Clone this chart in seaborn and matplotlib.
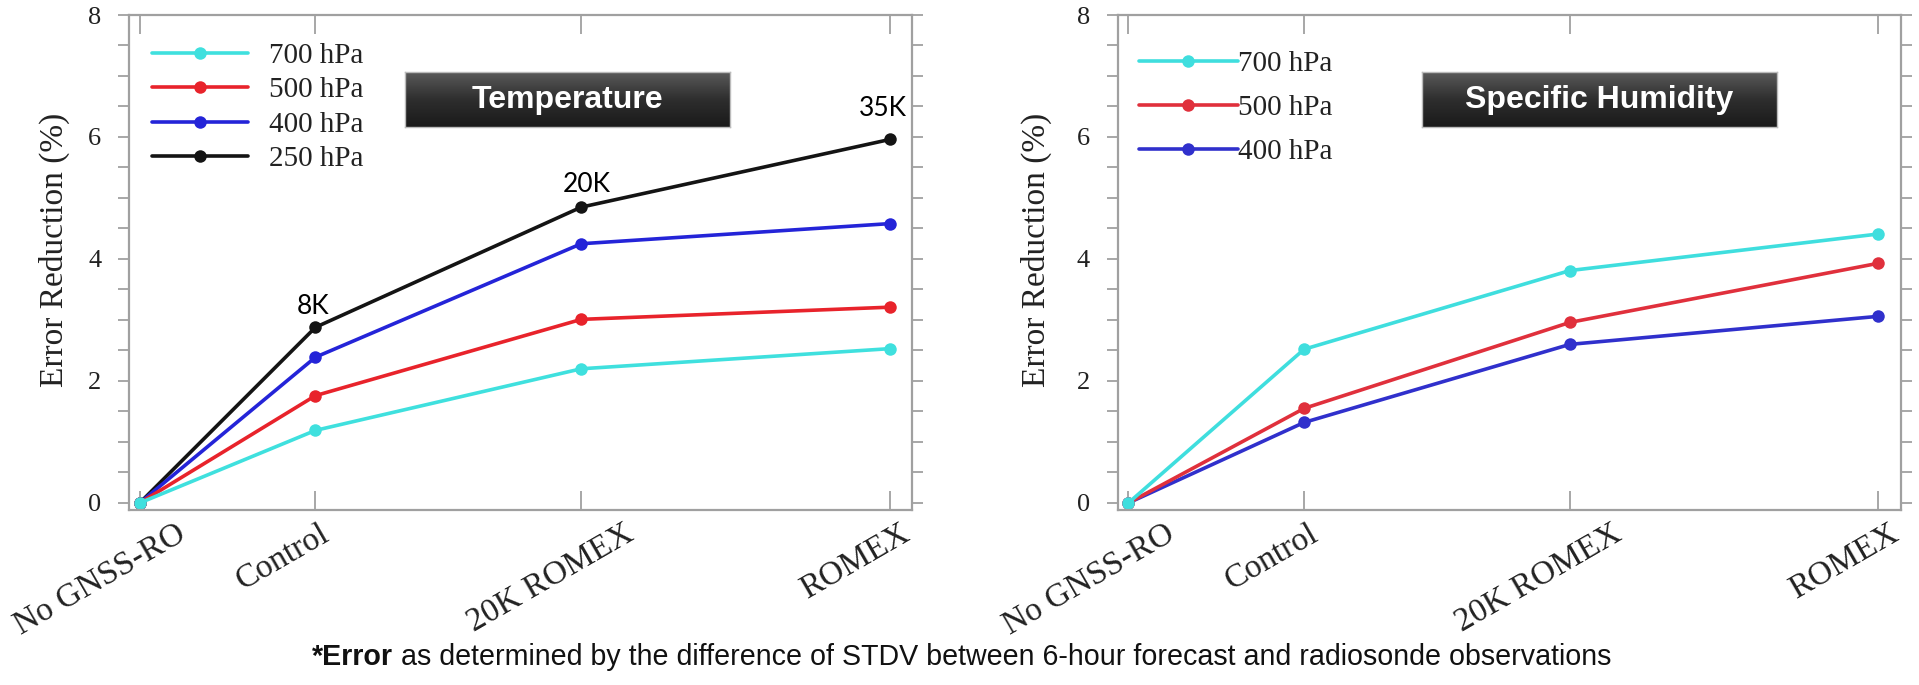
import numpy as np
import pandas as pd
import matplotlib
matplotlib.use("Agg")
import matplotlib.pyplot as plt
import seaborn as sns
from matplotlib.lines import Line2D
from matplotlib.ticker import MultipleLocator
from matplotlib.transforms import ScaledTranslation
from matplotlib.colors import LinearSegmentedColormap
from matplotlib import font_manager

# ---------------- data ----------------
categories = ["No GNSS-RO", "Control", "20K ROMEX", "ROMEX"]
x_positions = [0.0, 8.2, 20.6, 35.0]   # category positions along the axis

temp_levels = ["700 hPa", "500 hPa", "400 hPa", "250 hPa"]
temp_700 = [0.0, 1.19, 2.20, 2.53]
temp_500 = [0.0, 1.76, 3.01, 3.21]
temp_400 = [0.0, 2.39, 4.25, 4.58]
temp_250 = [0.0, 2.88, 4.85, 5.96]

hum_levels = ["700 hPa", "500 hPa", "400 hPa"]
hum_700 = [0.0, 2.52, 3.81, 4.41]
hum_500 = [0.0, 1.55, 2.96, 3.93]
hum_400 = [0.0, 1.32, 2.60, 3.06]

count_labels = ["8K", "20K", "35K"]
panel_titles = ["Temperature", "Specific Humidity"]
y_label = "Error Reduction (%)"
y_ticks = [0, 2, 4, 6, 8]
footnote_bold = "*Error"
footnote_rest = " as determined by the difference of STDV between 6-hour forecast and radiosonde observations"

# ---------------- style ----------------
sns.set_style("ticks")
plt.rcParams["font.family"] = ["Liberation Serif", "DejaVu Serif"]
available = {f.name for f in font_manager.fontManager.ttflist}
sans_narrow = "Liberation Sans Narrow" if "Liberation Sans Narrow" in available else "Liberation Sans"

temp_colors = {"700 hPa": "#3fe0de", "500 hPa": "#e8232b", "400 hPa": "#2424d8", "250 hPa": "#141414"}
hum_colors = {"700 hPa": "#3fdede", "500 hPa": "#e0303c", "400 hPa": "#3030cc"}
spine_col = "#a0a0a0"
LW, MS = 2.6, 9

fig = plt.figure(figsize=(19.19, 6.85), dpi=100)
ax1 = fig.add_axes([0.0672, 0.2555, 0.4083, 0.7226])
ax2 = fig.add_axes([0.5824, 0.2555, 0.4082, 0.7226])


def long_df(levels, series):
    rows = []
    for lev, vals in zip(levels, series):
        for xp, v in zip(x_positions, vals):
            rows.append({"x": xp, "value": v, "level": lev})
    return pd.DataFrame(rows)


label_shift_px = [36, 4, 42, 10]


def style_axes(ax, label_x):
    ax.set_xlim(-0.5, 36.05)
    ax.set_ylim(-0.115, 8)
    ax.set_yticks(y_ticks)
    ax.set_yticklabels([str(t) for t in y_ticks])
    ax.yaxis.set_minor_locator(MultipleLocator(0.5))
    ax.set_xticks(x_positions)
    ax.set_xticklabels(categories, rotation=30, ha="right", va="top",
                       rotation_mode="anchor", fontsize=24)
    ax.tick_params(axis="y", which="both", direction="out", left=True, right=True,
                   length=8, width=1.3, color=spine_col, labelsize=19, pad=12,
                   labelcolor="#222222")
    ax.tick_params(axis="x", which="major", direction="in", top=True, bottom=True,
                   length=14, width=1.3, color=spine_col, pad=6, labelcolor="#222222")
    ax.tick_params(axis="x", which="minor", bottom=False, top=False)
    for lbl, dx in zip(ax.get_xticklabels(), label_shift_px):
        lbl.set_transform(lbl.get_transform() +
                          ScaledTranslation(dx / 100.0, 0, fig.dpi_scale_trans))
    for s in ax.spines.values():
        s.set_color(spine_col)
        s.set_linewidth(1.6)
        s.set_visible(True)
    ax.set_xlabel("")
    ax.set_ylabel(y_label, fontsize=24, color="#222222")
    ax.yaxis.set_label_coords(label_x, 0.525)
    ax.grid(False)


def draw_panel(ax, levels, series, colors):
    df = long_df(levels, series)
    draw_order = list(reversed(levels))
    sns.lineplot(data=df, x="x", y="value", hue="level", hue_order=draw_order,
                 palette=colors, marker="o", markersize=MS, markeredgewidth=0,
                 linewidth=LW, legend=False, ax=ax, sort=False, errorbar=None)


draw_panel(ax1, temp_levels, [temp_700, temp_500, temp_400, temp_250], temp_colors)
draw_panel(ax2, hum_levels, [hum_700, hum_500, hum_400], hum_colors)
style_axes(ax1, -0.075)
style_axes(ax2, -0.084)

# annotations on the 250 hPa line
annot_offsets = [(-2, 15), (4, 16), (-5, 22)]
for i, lbl in enumerate(count_labels):
    ax1.annotate(lbl, (x_positions[i + 1], temp_250[i + 1]), xytext=annot_offsets[i],
                 textcoords="offset points", ha="center", va="center",
                 fontsize=19, family=["Lato", "DejaVu Sans"], color="black")


# legends
def make_legend(ax, levels, colors, anchor, labelspacing, handletextpad, handlelength):
    handles = [Line2D([0], [0], color=colors[l], lw=LW, marker="o", markersize=MS,
                      markeredgewidth=0) for l in levels]
    ax.legend(handles, levels, loc="upper left", bbox_to_anchor=anchor, frameon=False,
              fontsize=21, labelspacing=labelspacing, handletextpad=handletextpad,
              handlelength=handlelength, borderaxespad=0, borderpad=0,
              labelcolor="#222222")


make_legend(ax1, temp_levels, temp_colors, (0.029, 0.944), 0.27, 0.72, 3.3)
make_legend(ax2, hum_levels, hum_colors, (0.027, 0.928), 0.6, 0.0, 3.4)

# title boxes with gradient
grad = np.linspace(0, 1, 64).reshape(-1, 1)
box_cmap = LinearSegmentedColormap.from_list("box", ["#595959", "#2e2e2e", "#1a1a1a"])
box_specs = [(0.2110, 0.8146, 0.1694, 0.0800), (0.7410, 0.8146, 0.1850, 0.0800)]
for (bx, by, bw, bh), title in zip(box_specs, panel_titles):
    bax = fig.add_axes([bx, by, bw, bh])
    bax.imshow(grad, aspect="auto", cmap=box_cmap, extent=[0, 1, 0, 1], origin="upper")
    bax.set_xlim(0, 1)
    bax.set_ylim(0, 1)
    bax.set_xticks([])
    bax.set_yticks([])
    for s in bax.spines.values():
        s.set_color("#bbbbbb")
        s.set_linewidth(1.0)
    bax.text(0.5, 0.5, title, ha="center", va="center", color="white",
             fontsize=23, fontweight="bold", family=["Liberation Sans", "DejaVu Sans"],
             transform=bax.transAxes)

# footnote
x0_px, target_w, y_fn = 312, 1297, 0.041
fs = 20
t1 = fig.text(x0_px / 1919, y_fn, footnote_bold, fontsize=fs, fontweight="bold",
              family=[sans_narrow, "DejaVu Sans"], va="center", ha="left", color="#111111")
t2 = fig.text(0, y_fn, footnote_rest, fontsize=fs,
              family=[sans_narrow, "DejaVu Sans"], va="center", ha="left", color="#111111")
renderer = fig.canvas.get_renderer()
w_total = t1.get_window_extent(renderer).width + t2.get_window_extent(renderer).width
fs = fs * target_w / w_total
t1.set_fontsize(fs)
t2.set_fontsize(fs)
w1 = t1.get_window_extent(renderer).width
t2.set_x((x0_px + w1) / 1919)

fig.savefig("out.png", dpi=100)
